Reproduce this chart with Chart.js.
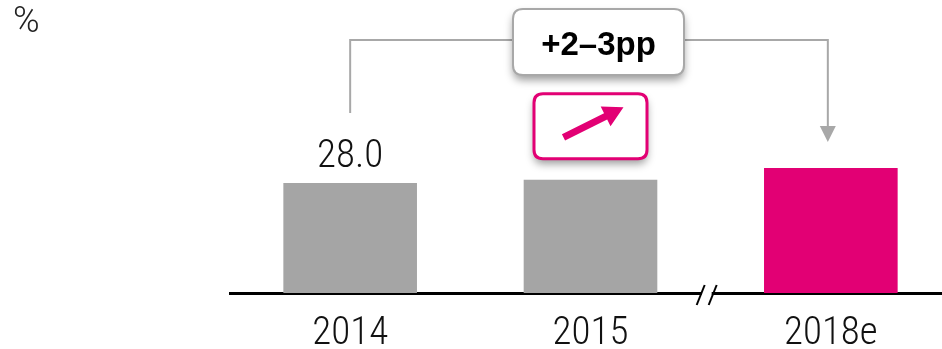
<!DOCTYPE html>
<html>
<head>
<meta charset="utf-8">
<script src="https://cdn.jsdelivr.net/npm/chart.js@4/dist/chart.umd.min.js"></script>
<style>
  html, body { margin: 0; padding: 0; background: #fff; overflow: hidden; }
  #wrap { position: relative; width: 951px; height: 376px; }
</style>
</head>
<body>
<div id="wrap"><canvas id="c"></canvas></div>
<script>
// Share values by year, in percent
const categories = ['2014', '2015', '2018e'];
const shareValues = [28.0, 28.8, 31.8];
const showValueLabel = [true, false, false];
const barColors = ['#a5a5a5', '#a5a5a5', '#e20074'];
const unitLabel = '%';
const growthLabel = '+2\u20133pp';

const NARROW = '"Roboto Condensed", "Liberation Sans Narrow", "DejaVu Sans Condensed", sans-serif';
const MAGENTA = '#e20074';
const LINE_GREY = '#a8a8a8';

function roundRect(ctx, x, y, w, h, r) {
  ctx.beginPath();
  ctx.moveTo(x + r, y);
  ctx.lineTo(x + w - r, y);
  ctx.quadraticCurveTo(x + w, y, x + w, y + r);
  ctx.lineTo(x + w, y + h - r);
  ctx.quadraticCurveTo(x + w, y + h, x + w - r, y + h);
  ctx.lineTo(x + r, y + h);
  ctx.quadraticCurveTo(x, y + h, x, y + h - r);
  ctx.lineTo(x, y + r);
  ctx.quadraticCurveTo(x, y, x + r, y);
  ctx.closePath();
}

const decorations = {
  id: 'decorations',
  afterDatasetsDraw(chart) {
    const ctx = chart.ctx;
    const area = chart.chartArea;
    const bars = chart.getDatasetMeta(0).data;
    const x0 = bars[0].x, x1 = bars[1].x, x2 = bars[2].x;
    const top0 = bars[0].y, top1 = bars[1].y, top2 = bars[2].y;

    ctx.save();

    // unit marker
    ctx.fillStyle = '#222';
    ctx.font = '300 36px Roboto, sans-serif';
    ctx.textAlign = 'left';
    ctx.textBaseline = 'alphabetic';
    ctx.fillText(unitLabel, 13, 32);

    // value labels above bars
    ctx.fillStyle = '#111';
    ctx.font = '300 39px ' + NARROW;
    ctx.textAlign = 'center';
    shareValues.forEach((v, i) => {
      if (showValueLabel[i]) ctx.fillText(v.toFixed(1), bars[i].x, bars[i].y - 16);
    });

    // connector from first bar to forecast bar
    const lineY = 40;
    const ax = x2 - 3;
    const tipY = top2 - 26;
    ctx.strokeStyle = LINE_GREY;
    ctx.lineWidth = 2;
    ctx.beginPath();
    ctx.moveTo(x0, top0 - 70);
    ctx.lineTo(x0, lineY);
    ctx.lineTo(ax, lineY);
    ctx.lineTo(ax, tipY - 14);
    ctx.stroke();
    ctx.fillStyle = LINE_GREY;
    ctx.beginPath();
    ctx.moveTo(ax - 8, tipY - 16);
    ctx.lineTo(ax + 8, tipY - 16);
    ctx.lineTo(ax, tipY);
    ctx.closePath();
    ctx.fill();

    // growth box
    const gcx = (x0 + x2) / 2 + 8;
    const gw = 171, gh = 66, gy = 9;
    ctx.save();
    ctx.shadowColor = 'rgba(0,0,0,0.4)';
    ctx.shadowBlur = 8;
    ctx.shadowOffsetY = 5;
    roundRect(ctx, gcx - gw / 2, gy, gw, gh, 10);
    ctx.fillStyle = '#fff';
    ctx.fill();
    ctx.restore();
    roundRect(ctx, gcx - gw / 2, gy, gw, gh, 10);
    ctx.strokeStyle = '#a8a8a8';
    ctx.lineWidth = 2;
    ctx.stroke();
    ctx.fillStyle = '#000';
    ctx.font = 'bold 33px "Liberation Sans", Arial, sans-serif';
    ctx.textAlign = 'center';
    ctx.textBaseline = 'alphabetic';
    ctx.fillText(growthLabel, gcx, 55);

    // trend box with upward arrow
    const pw = 113, ph = 65;
    const pBottom = top1 - 21;
    const py = pBottom - ph;
    ctx.save();
    ctx.shadowColor = 'rgba(0,0,0,0.4)';
    ctx.shadowBlur = 8;
    ctx.shadowOffsetY = 5;
    roundRect(ctx, x1 - pw / 2, py, pw, ph, 9);
    ctx.fillStyle = '#fff';
    ctx.fill();
    ctx.restore();
    roundRect(ctx, x1 - pw / 2, py, pw, ph, 9);
    ctx.strokeStyle = MAGENTA;
    ctx.lineWidth = 3;
    ctx.stroke();

    const cy = py + ph / 2;
    const sx = x1 - 27, sy = cy + 11;
    const tx = x1 + 33, ty = cy - 19;
    const dx = tx - sx, dy = ty - sy;
    const len = Math.hypot(dx, dy);
    const ux = dx / len, uy = dy / len;
    const nx = -uy, ny = ux;
    const headLen = 20, headHalf = 11, shaftHalf = 3.5;
    const bx = tx - ux * headLen, by = ty - uy * headLen;
    ctx.fillStyle = MAGENTA;
    ctx.beginPath();
    ctx.moveTo(sx + nx * shaftHalf, sy + ny * shaftHalf);
    ctx.lineTo(bx + nx * shaftHalf, by + ny * shaftHalf);
    ctx.lineTo(bx + nx * headHalf, by + ny * headHalf);
    ctx.lineTo(tx, ty);
    ctx.lineTo(bx - nx * headHalf, by - ny * headHalf);
    ctx.lineTo(bx - nx * shaftHalf, by - ny * shaftHalf);
    ctx.lineTo(sx - nx * shaftHalf, sy - ny * shaftHalf);
    ctx.closePath();
    ctx.fill();

    // axis break between actuals and forecast
    const brx = (bars[1].x + bars[2].x) / 2 - 4;
    const ay = area.bottom;
    ctx.fillStyle = '#fff';
    ctx.fillRect(brx - 5, ay - 3, 10, 6);
    ctx.strokeStyle = '#000';
    ctx.lineWidth = 2;
    [-6, 6].forEach(off => {
      ctx.beginPath();
      ctx.moveTo(brx + off + 4, ay - 8);
      ctx.lineTo(brx + off - 4, ay + 12);
      ctx.stroke();
    });

    ctx.restore();
  }
};

new Chart(document.getElementById('c'), {
  type: 'bar',
  data: {
    labels: categories,
    datasets: [{
      data: shareValues,
      backgroundColor: barColors,
      borderWidth: 0,
      barPercentage: 1,
      categoryPercentage: 0.556
    }]
  },
  options: {
    responsive: true,
    maintainAspectRatio: false,
    animation: false,
    layout: { padding: { left: 230, right: 0, top: 18, bottom: 0 } },
    plugins: { legend: { display: false }, tooltip: { enabled: false } },
    scales: {
      x: {
        grid: { display: false, drawTicks: false },
        border: { display: true, color: '#000', width: 3 },
        ticks: { color: '#111', font: { family: NARROW, size: 39, weight: '300', lineHeight: 1.0 }, padding: 22 }
      },
      y: {
        display: false,
        min: 0,
        max: 70
      }
    }
  },
  plugins: [decorations]
});
</script>
</body>
</html>
